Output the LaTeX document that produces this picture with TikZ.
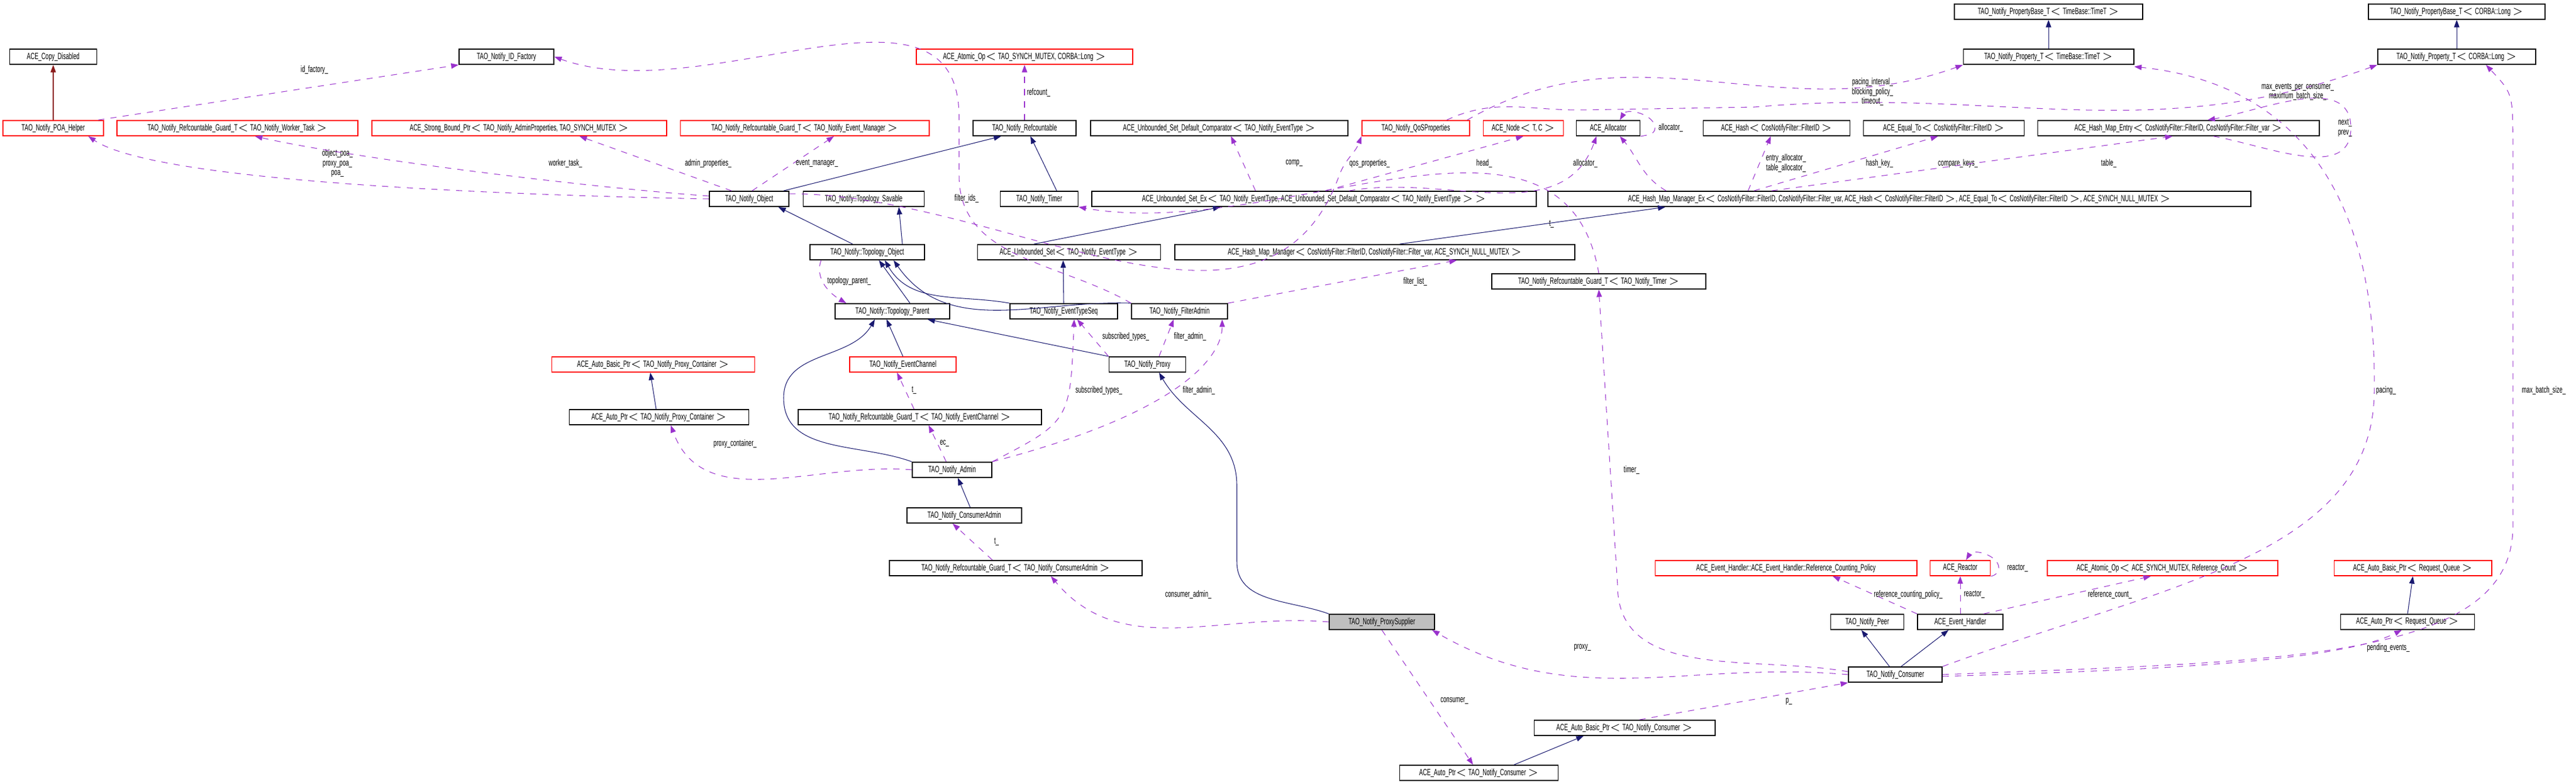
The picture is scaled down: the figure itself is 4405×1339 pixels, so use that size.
\documentclass[tikz,border=0pt]{standalone}
\usepackage{fontspec}
\setmainfont[FakeStretch=0.62]{Liberation Sans}
\usetikzlibrary{arrows.meta}
\definecolor{inhblue}{HTML}{191970}
\definecolor{usepurple}{HTML}{9A32CD}
\definecolor{privred}{HTML}{8B1A1A}
\tikzset{cls/.style={draw,line width=0.5pt,inner xsep=1pt,inner ysep=0pt,minimum height=0.26cm,font=\fontsize{4.4}{5}\selectfont},
         trunc/.style={cls,draw=red},
         self/.style={cls,fill=black!25},
         inh/.style={draw=inhblue,line width=0.3pt,-{Triangle[length=3.6pt,width=2.6pt]}},
         priv/.style={draw=privred,line width=0.3pt,-{Triangle[length=3.6pt,width=2.6pt]}},
         use/.style={draw=usepurple,line width=0.3pt,dashed,-{Triangle[length=3.6pt,width=2.6pt]}},
         lbl/.style={font=\fontsize{4.4}{4.8}\selectfont,inner sep=0pt,align=center},
        }

\begin{document}
\begin{tikzpicture}[x=0.01cm,y=0.01cm]
        \useasboundingbox (0,0) rectangle (4405,-1339);
        % top row
        \node[cls,minimum width=1.49cm](cpy)at(91,-97){ACE\_Copy\_Disabled};
        \node[cls,minimum width=1.62cm](idf)at(866,-97){TAO\_Notify\_ID\_Factory};
        \node[trunc,minimum width=3.70cm](atom)at(1752,-97){ACE\_Atomic\_Op$<$ TAO\_SYNCH\_MUTEX, CORBA::Long $>$};
        \node[cls,minimum width=3.22cm](pbt)at(3503,-20){TAO\_Notify\_PropertyBase\_T$<$ TimeBase::TimeT $>$};
        \node[cls,minimum width=3.02cm](pbl)at(4201,-20){TAO\_Notify\_PropertyBase\_T$<$ CORBA::Long $>$};
        \node[cls,minimum width=2.91cm](ptt)at(3503,-97){TAO\_Notify\_Property\_T$<$ TimeBase::TimeT $>$};
        \node[cls,minimum width=2.70cm](ptl)at(4201,-97){TAO\_Notify\_Property\_T$<$ CORBA::Long $>$};

        \node[trunc,minimum width=1.72cm](poa)at(91,-219){TAO\_Notify\_POA\_Helper};
        \node[trunc,minimum width=4.12cm](gwork)at(406,-219){TAO\_Notify\_Refcountable\_Guard\_T$<$ TAO\_Notify\_Worker\_Task $>$};
        \node[trunc,minimum width=5.04cm](sbp)at(888,-219){ACE\_Strong\_Bound\_Ptr$<$ TAO\_Notify\_AdminProperties, TAO\_SYNCH\_MUTEX $>$};
        \node[trunc,minimum width=4.25cm](gevm)at(1376,-219){TAO\_Notify\_Refcountable\_Guard\_T$<$ TAO\_Notify\_Event\_Manager $>$};
        \node[cls,minimum width=1.76cm](rfc)at(1752,-219){TAO\_Notify\_Refcountable};
        \node[cls,minimum width=4.40cm](cmp)at(2085,-219){ACE\_Unbounded\_Set\_Default\_Comparator$<$ TAO\_Notify\_EventType $>$};
        \node[trunc,minimum width=1.84cm](qos)at(2421,-219){TAO\_Notify\_QoSProperties};
        \node[trunc,minimum width=1.37cm](anode)at(2605,-219){ACE\_Node$<$ T, C $>$};
        \node[cls,minimum width=1.09cm](alloc)at(2750,-219){ACE\_Allocator};
        \node[cls,minimum width=2.51cm](hash)at(3038,-219){ACE\_Hash$<$ CosNotifyFilter::FilterID $>$};
        \node[cls,minimum width=2.75cm](eqto)at(3324,-219){ACE\_Equal\_To$<$ CosNotifyFilter::FilterID $>$};
        \node[cls,minimum width=4.81cm](hme)at(3725,-219){ACE\_Hash\_Map\_Entry$<$ CosNotifyFilter::FilterID, CosNotifyFilter::Filter\_var $>$};

        \node[cls,minimum width=1.36cm](obj)at(1281,-340){TAO\_Notify\_Object};
        \node[cls,minimum width=2.07cm](tsav)at(1477,-340){TAO\_Notify::Topology\_Savable};
        \node[cls,minimum width=1.33cm](tmr)at(1777,-340){TAO\_Notify\_Timer};
        \node[cls,minimum width=7.60cm](usx)at(2247,-340){ACE\_Unbounded\_Set\_Ex$<$ TAO\_Notify\_EventType, ACE\_Unbounded\_Set\_Default\_Comparator$<$ TAO\_Notify\_EventType $>$ $>$};
        \node[cls,minimum width=12.01cm](hmmx)at(3248,-340){ACE\_Hash\_Map\_Manager\_Ex$<$ CosNotifyFilter::FilterID, CosNotifyFilter::Filter\_var, ACE\_Hash$<$ CosNotifyFilter::FilterID $>$, ACE\_Equal\_To$<$ CosNotifyFilter::FilterID $>$, ACE\_SYNCH\_NULL\_MUTEX $>$};

        \node[cls,minimum width=1.96cm](tobj)at(1483,-431){TAO\_Notify::Topology\_Object};
        \node[cls,minimum width=3.13cm](uset)at(1828,-431){ACE\_Unbounded\_Set$<$ TAO\_Notify\_EventType $>$};
        \node[cls,minimum width=6.83cm](hmm)at(2351,-431){ACE\_Hash\_Map\_Manager$<$ CosNotifyFilter::FilterID, CosNotifyFilter::Filter\_var, ACE\_SYNCH\_NULL\_MUTEX $>$};
        \node[cls,minimum width=3.66cm](gtmr)at(2734,-481){TAO\_Notify\_Refcountable\_Guard\_T$<$ TAO\_Notify\_Timer $>$};

        \node[cls,minimum width=1.96cm](tpar)at(1526,-532){TAO\_Notify::Topology\_Parent};
        \node[cls,minimum width=1.84cm](ets)at(1819,-532){TAO\_Notify\_EventTypeSeq};
        \node[cls,minimum width=1.64cm](fadm)at(2017,-532){TAO\_Notify\_FilterAdmin};

        \node[trunc,minimum width=3.47cm](abpc)at(1117,-623){ACE\_Auto\_Basic\_Ptr$<$ TAO\_Notify\_Proxy\_Container $>$};
        \node[trunc,minimum width=1.82cm](evc)at(1544,-623){TAO\_Notify\_EventChannel};
        \node[cls,minimum width=1.31cm](prx)at(1962,-623){TAO\_Notify\_Proxy};
        \node[cls,minimum width=3.07cm](apc)at(1127,-713){ACE\_Auto\_Ptr$<$ TAO\_Notify\_Proxy\_Container $>$};
        \node[cls,minimum width=4.16cm](gevc)at(1573,-713){TAO\_Notify\_Refcountable\_Guard\_T$<$ TAO\_Notify\_EventChannel $>$};
        \node[cls,minimum width=1.36cm](adm)at(1628,-803){TAO\_Notify\_Admin};
        \node[cls,minimum width=1.96cm](cadm)at(1649,-881){TAO\_Notify\_ConsumerAdmin};
        \node[cls,minimum width=4.32cm](gcadm)at(1737,-971){TAO\_Notify\_Refcountable\_Guard\_T$<$ TAO\_Notify\_ConsumerAdmin $>$};

        \node[trunc,minimum width=4.47cm](rcp)at(3054,-971){ACE\_Event\_Handler::ACE\_Event\_Handler::Reference\_Counting\_Policy};
        \node[trunc,minimum width=1.03cm](reac)at(3352,-971){ACE\_Reactor};
        \node[trunc,minimum width=3.94cm](atomrc)at(3698,-971){ACE\_Atomic\_Op$<$ ACE\_SYNCH\_MUTEX, Reference\_Count $>$};
        \node[trunc,minimum width=2.69cm](abrq)at(4126,-971){ACE\_Auto\_Basic\_Ptr$<$ Request\_Queue $>$};
        \node[self,minimum width=1.80cm](ps)at(2363,-1063){TAO\_Notify\_ProxySupplier};
        \node[cls,minimum width=1.25cm](peer)at(3193,-1063){TAO\_Notify\_Peer};
        \node[cls,minimum width=1.46cm](evh)at(3352,-1063){ACE\_Event\_Handler};
        \node[cls,minimum width=2.29cm](aprq)at(4117,-1063){ACE\_Auto\_Ptr$<$ Request\_Queue $>$};
        \node[cls,minimum width=1.60cm](cons)at(3241,-1153){TAO\_Notify\_Consumer};
        \node[cls,minimum width=3.09cm](abcn)at(2778,-1244){ACE\_Auto\_Basic\_Ptr$<$ TAO\_Notify\_Consumer $>$};
        \node[cls,minimum width=2.71cm](apcn)at(2529,-1321){ACE\_Auto\_Ptr$<$ TAO\_Notify\_Consumer $>$};

        % inheritance
        \draw[priv](poa)--(cpy);
        \draw[inh](ptt)--(pbt);
        \draw[inh](ptl)--(pbl);
        \draw[inh]([xshift=-1mm]obj.north east)--([xshift=-4mm]rfc.south);
        \draw[inh]([xshift=3mm]tmr.north)--([xshift=1mm]rfc.south);
        \draw[inh]([xshift=-2.5mm]tobj.north)--([xshift=5mm]obj.south);
        \draw[inh]([xshift=6mm]tobj.north)--([xshift=6mm]tsav.south);
        \draw[inh]([xshift=3mm]tpar.north)--([xshift=2mm]tobj.south);
        \draw[inh](ets.north west)to[out=170,in=-60]([xshift=3mm]tobj.south);
        \draw[inh](fadm.north west)to[out=178,in=-55]([xshift=4.5mm]tobj.south);
        \draw[inh](ets.north)--([xshift=-1mm]uset.south);
        \draw[inh]([xshift=-6mm]uset.north)--([xshift=-16mm]usx.south);
        \draw[inh]([xshift=-30mm]hmm.north east)--([xshift=-40mm]hmmx.south);
        \draw[inh](evc.north)--([xshift=-1mm]tpar.south);
        \draw[inh](prx.north west)--([xshift=6mm]tpar.south);
        \draw[inh](adm.north west)to[out=160,in=-90](1340,-680)to[out=90,in=-120]([xshift=-3mm]tpar.south);
        \draw[inh]([xshift=1mm]cadm.north)--([xshift=1mm]adm.south);
        \draw[inh](ps.north west)to[out=160,in=-90](2115,-960)--(2115,-830)to[out=90,in=-60]([xshift=2mm]prx.south);
        \draw[inh]([xshift=-0.5mm]apc.north)--([xshift=-0.5mm]abpc.south);
        \draw[inh]([xshift=-1mm]cons.north)--([xshift=-1mm]peer.south);
        \draw[inh]([xshift=1mm]cons.north)--([xshift=-2mm]evh.south);
        \draw[inh]([xshift=6mm]apcn.north)--([xshift=-7mm]abcn.south);
        \draw[inh](aprq.north)--(abrq.south);

        % members
        \draw[use]([xshift=-1mm]poa.north east)--(idf.south west) node[lbl,pos=0.6,above=6pt]{id\_factory\_};
        \draw[use](obj.west)..controls(700,-330)and(250,-300)..([xshift=6mm]poa.south);
        \node[lbl](lpoa)at(577,-279){object\_poa\_\\proxy\_poa\_\\poa\_};
        \draw[use]([yshift=0.5mm]obj.west)..controls(1000,-320)and(600,-270)..([xshift=3mm]gwork.south);
        \node[lbl](lwork)at(967,-279){worker\_task\_};
        \draw[use]([xshift=-3mm]obj.north)--([xshift=-15mm]sbp.south east);
        \node[lbl](ladm)at(1211,-279){admin\_properties\_};
        \draw[use]([xshift=0.5mm]obj.north)--([xshift=5mm]gevm.south);
        \node[lbl](levm)at(1397,-279){event\_manager\_};
        \draw[use]([yshift=-0.5mm]obj.north east)to[out=0,in=-110](2290,-300)to[out=70,in=-110](qos.south west);
        \node[lbl](lqos)at(2342,-279){qos\_properties\_};
        \draw[use](rfc.north)--(atom.south) node[lbl,midway,right=1pt]{refcount\_};
        \draw[use]([xshift=-10mm]usx.north)--([xshift=2mm]cmp.south);
        \node[lbl](lcmp)at(2213,-279){comp\_};
        \draw[use]([xshift=2mm]usx.north)--(anode.south);
        \node[lbl](lhead)at(2538,-279){head\_};
        \draw[use]([xshift=6mm]usx.north)to[out=10,in=-110]([xshift=-2mm]alloc.south);
        \node[lbl](lall)at(2711,-279){allocator\_};
        \draw[use](alloc.south east)to[out=10,in=-90](2830,-219)to[out=90,in=60]([xshift=2mm]alloc.north);
        \node[lbl](lall2)at(2857,-218){allocator\_};
        \draw[use]([xshift=-100mm]hmmx.north east)to[out=150,in=-50]([xshift=2mm]alloc.south);
        \node[lbl](lea)at(3054,-279){entry\_allocator\_\\table\_allocator\_};
        \draw[use]([xshift=-86mm]hmmx.north east)--([xshift=-1mm]hash.south);
        \node[lbl](lhk)at(3214,-279){hash\_key\_};
        \draw[use]([xshift=-85mm]hmmx.north east)--([xshift=-1mm]eqto.south);
        \node[lbl](lck)at(3348,-279){compare\_keys\_};
        \draw[use]([xshift=-82mm]hmmx.north east)--([xshift=-1mm]hme.south);
        \node[lbl](ltab)at(3606,-279){table\_};
        \draw[use]([xshift=6mm]hme.south)to[out=-10,in=-90](4020,-219)to[out=90,in=10]([xshift=5mm]hme.north);
        \node[lbl](lnp)at(4010,-219){next\_\\prev\_};
        \draw[use]([xshift=-0.5mm]qos.north east)to[out=30,in=-160](ptt.south west);
        \node[lbl](lpt)at(3202,-157){pacing\_interval\_\\blocking\_policy\_\\timeout\_};
        \draw[use]([xshift=-4mm]qos.north east)to[out=25,in=180](2700,-188)--(3000,-183)to[out=5,in=-160](ptl.south west);
        \node[lbl](lmx)at(3929,-157){max\_events\_per\_consumer\_\\maximum\_batch\_size\_};
        \draw[use](fadm.north west)to[out=150,in=-90](1640,-300)--(1640,-200)to[out=90,in=-20](idf.east);
        \node[lbl](lfid)at(1653,-339){filter\_ids\_};
        \draw[use](gtmr.north)to[out=100,in=-10](tmr.south east);
        \node[lbl](lt1)at(2653,-383){t\_};
        \draw[use](fadm.north east)--([xshift=14mm]hmm.south);
        \node[lbl](lfl)at(2420,-481){filter\_list\_};
        \draw[use]([xshift=2mm]tobj.south west)to[out=-110,in=150]([xshift=2mm]tpar.north west);
        \node[lbl](ltp)at(1452,-480){topology\_parent\_};
        \draw[use](prx.north west)--([xshift=-7mm]ets.south east);
        \draw[use]([xshift=2mm]prx.north)--([xshift=-1mm]fadm.south);
        \node[lbl](lst1)at(1925,-575){subscribed\_types\_};
        \node[lbl](lfa1)at(2035,-575){filter\_admin\_};
        \draw[use](adm.north east)..controls(1830,-720)..([xshift=-7.5mm]ets.south east);
        \draw[use](adm.north east)..controls(2040,-700)and(2090,-600)..([xshift=-1mm]fadm.south east);
        \node[lbl](lst2)at(1879,-667){subscribed\_types\_};
        \node[lbl](lfa2)at(2050,-667){filter\_admin\_};
        \draw[use](adm.west)to[out=175,in=-70]([xshift=2mm]apc.south);
        \node[lbl](lpc)at(1257,-758){proxy\_container\_};
        \draw[use]([xshift=-1mm]adm.north)--([xshift=1.5mm]gevc.south);
        \node[lbl](lec)at(1615,-758){ec\_};
        \draw[use]([xshift=-1mm]gevc.north)--([xshift=-1mm]evc.south);
        \node[lbl](lt2)at(1563,-667){t\_};
        \draw[use]([xshift=-4mm]gcadm.north)--([xshift=-2mm]cadm.south);
        \node[lbl](lt3)at(1704,-926){t\_};
        \draw[use](ps.west)to[out=175,in=-50]([xshift=6mm]gcadm.south);
        \node[lbl](lca)at(2032,-1016){consumer\_admin\_};
        \draw[use](ps.south)--([xshift=-1mm]apcn.north);
        \node[lbl](lcn)at(2487,-1198){consumer\_};
        \draw[use](cons.west)to[out=175,in=-30]([xshift=-0.5mm]ps.south east);
        \node[lbl](lpx)at(2706,-1107){proxy\_};
        \draw[use]([xshift=-13mm]abcn.north east)--(cons.south west);
        \node[lbl](lp)at(3059,-1199){p\_};
        \draw[use]([yshift=0.5mm]cons.west)to[out=170,in=-90](2766,-1000)--(gtmr.south);
        \node[lbl](ltm)at(2790,-803){timer\_};
        \draw[use](cons.north east)..controls(3700,-1000)and(4060,-950)..(4060,-667)..controls(4065,-300)and(3900,-140)..([yshift=-0.3mm]ptt.south east);
        \node[lbl](lpac)at(4080,-667){pacing\_};
        \draw[use](cons.east)..controls(3900,-1130)and(4297,-1130)..(4297,-900)--(4297,-250)..controls(4297,-160)..([xshift=5mm]ptl.south);
        \node[lbl](lmb)at(4350,-667){max\_batch\_size\_};
        \draw[use]([yshift=-0.3mm]cons.east)..controls(3700,-1145)and(4000,-1130)..([xshift=-1mm]aprq.south);
        \node[lbl](lpe)at(4084,-1107){pending\_events\_};
        \draw[use](evh.north west)--([xshift=8mm]rcp.south);
        \node[lbl](lrcp)at(3263,-1016){reference\_counting\_policy\_};
        \draw[use](evh.north)--(reac.south);
        \node[lbl](lre)at(3376,-1016){reactor\_};
        \draw[use]([xshift=4mm]evh.north)--([xshift=-2mm]atomrc.south);
        \node[lbl](lrc)at(3608,-1016){reference\_count\_};
        \draw[use](reac.south east)to[out=10,in=-90](3418,-971)to[out=90,in=60]([xshift=1mm]reac.north);
        \node[lbl](lre2)at(3450,-971){reactor\_};
\end{tikzpicture}
\end{document}
